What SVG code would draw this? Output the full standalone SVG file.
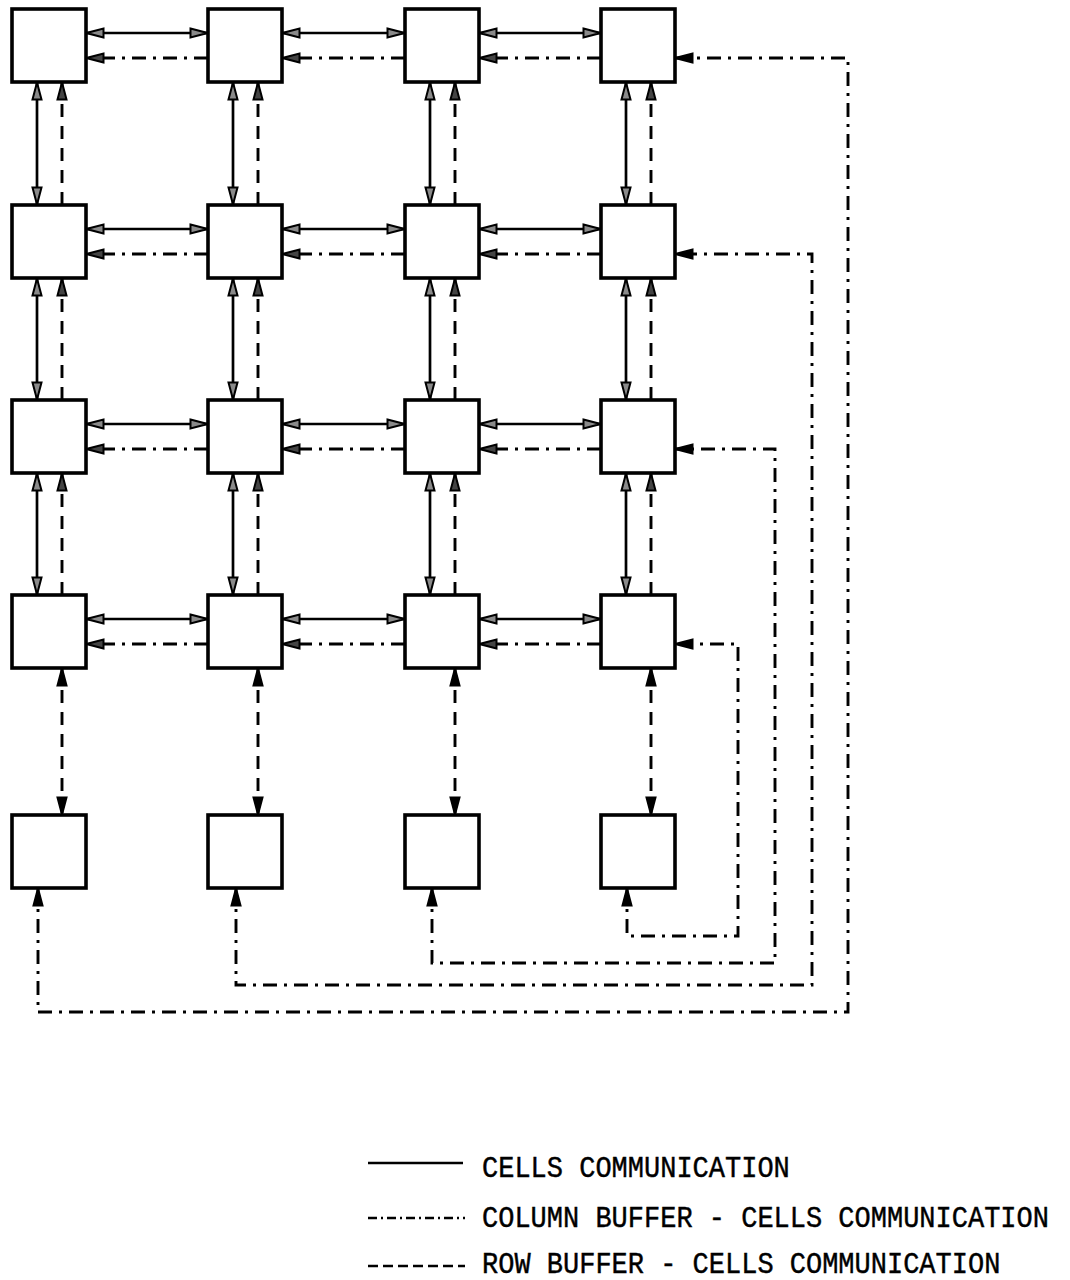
<svg xmlns="http://www.w3.org/2000/svg" width="1070" height="1280" viewBox="0 0 1070 1280">
<style>
.cell{fill:#fff;stroke:#000;stroke-width:3.6}
.s{fill:none;stroke:#000;stroke-width:2.7}
.d{fill:none;stroke:#000;stroke-width:2.9;stroke-dasharray:13 9}
.dd{fill:none;stroke:#000;stroke-width:2.9;stroke-dasharray:14 7 3 7}
.gs{marker-start:url(#ga);marker-end:url(#ga)}
.ge{marker-end:url(#da)}
.bs{marker-start:url(#ba);marker-end:url(#ba)}
.lt{font-family:"Liberation Mono","DejaVu Sans Mono",monospace;font-size:27px;fill:#000;stroke:#000;stroke-width:0.4}
</style>
<defs>
<marker id="ga" viewBox="0 0 20 12" refX="19" refY="6" markerWidth="20" markerHeight="12" markerUnits="userSpaceOnUse" orient="auto-start-reverse">
<path d="M1.5,1.5 L18.5,6 L1.5,10.5 z" fill="#8a8a8a" stroke="#000" stroke-width="2"/>
</marker>
<marker id="da" viewBox="0 0 20 12" refX="19" refY="6" markerWidth="20" markerHeight="12" markerUnits="userSpaceOnUse" orient="auto-start-reverse">
<path d="M1.5,1.5 L18.5,6 L1.5,10.5 z" fill="#444" stroke="#000" stroke-width="2"/>
</marker>
<marker id="ba" viewBox="0 0 20 12" refX="19" refY="6" markerWidth="20" markerHeight="12" markerUnits="userSpaceOnUse" orient="auto-start-reverse">
<path d="M1.5,1.5 L18.5,6 L1.5,10.5 z" fill="#000" stroke="#000" stroke-width="2"/>
</marker>
</defs>

<g id="connectors">
<!-- horizontal cell-cell solid -->
<g class="s gs">
<path d="M86,33 H208"/><path d="M282,33 H405"/><path d="M479,33 H601"/>
<path d="M86,229 H208"/><path d="M282,229 H405"/><path d="M479,229 H601"/>
<path d="M86,424 H208"/><path d="M282,424 H405"/><path d="M479,424 H601"/>
<path d="M86,619 H208"/><path d="M282,619 H405"/><path d="M479,619 H601"/>
</g>
<!-- horizontal column buffer dash-dot -->
<g class="dd ge">
<path d="M208,58 H86"/><path d="M405,58 H282"/><path d="M601,58 H479"/>
<path d="M208,254 H86"/><path d="M405,254 H282"/><path d="M601,254 H479"/>
<path d="M208,449 H86"/><path d="M405,449 H282"/><path d="M601,449 H479"/>
<path d="M208,644 H86"/><path d="M405,644 H282"/><path d="M601,644 H479"/>
</g>
<!-- vertical cell-cell solid -->
<g class="s gs">
<path d="M37,82 V205"/><path d="M37,278 V400"/><path d="M37,473 V595"/>
<path d="M233,82 V205"/><path d="M233,278 V400"/><path d="M233,473 V595"/>
<path d="M430,82 V205"/><path d="M430,278 V400"/><path d="M430,473 V595"/>
<path d="M626,82 V205"/><path d="M626,278 V400"/><path d="M626,473 V595"/>
</g>
<!-- vertical row buffer dashed -->
<g class="d ge">
<path d="M62,205 V82"/><path d="M62,400 V278"/><path d="M62,595 V473"/>
<path d="M258,205 V82"/><path d="M258,400 V278"/><path d="M258,595 V473"/>
<path d="M455,205 V82"/><path d="M455,400 V278"/><path d="M455,595 V473"/>
<path d="M651,205 V82"/><path d="M651,400 V278"/><path d="M651,595 V473"/>
</g>
<!-- row 4 to buffers -->
<g class="d bs">
<path d="M62,668 V815"/><path d="M258,668 V815"/><path d="M455,668 V815"/><path d="M651,668 V815"/>
</g>
<!-- buffer bottom routing -->
<g class="dd bs">
<path d="M627,888 V936 H738 V644 H675"/>
<path d="M432,888 V963 H775 V449 H675"/>
<path d="M236,888 V985 H812 V254 H675"/>
<path d="M38,888 V1012 H848 V58 H675"/>
</g>
</g>

<g id="r1c1"><rect class="cell" x="12" y="9" width="74" height="73"/></g>
<g id="r1c2"><rect class="cell" x="208" y="9" width="74" height="73"/></g>
<g id="r1c3"><rect class="cell" x="405" y="9" width="74" height="73"/></g>
<g id="r1c4"><rect class="cell" x="601" y="9" width="74" height="73"/></g>
<g id="r2c1"><rect class="cell" x="12" y="205" width="74" height="73"/></g>
<g id="r2c2"><rect class="cell" x="208" y="205" width="74" height="73"/></g>
<g id="r2c3"><rect class="cell" x="405" y="205" width="74" height="73"/></g>
<g id="r2c4"><rect class="cell" x="601" y="205" width="74" height="73"/></g>
<g id="r3c1"><rect class="cell" x="12" y="400" width="74" height="73"/></g>
<g id="r3c2"><rect class="cell" x="208" y="400" width="74" height="73"/></g>
<g id="r3c3"><rect class="cell" x="405" y="400" width="74" height="73"/></g>
<g id="r3c4"><rect class="cell" x="601" y="400" width="74" height="73"/></g>
<g id="r4c1"><rect class="cell" x="12" y="595" width="74" height="73"/></g>
<g id="r4c2"><rect class="cell" x="208" y="595" width="74" height="73"/></g>
<g id="r4c3"><rect class="cell" x="405" y="595" width="74" height="73"/></g>
<g id="r4c4"><rect class="cell" x="601" y="595" width="74" height="73"/></g>
<g id="buf1"><rect class="cell" x="12" y="815" width="74" height="73"/></g>
<g id="buf2"><rect class="cell" x="208" y="815" width="74" height="73"/></g>
<g id="buf3"><rect class="cell" x="405" y="815" width="74" height="73"/></g>
<g id="buf4"><rect class="cell" x="601" y="815" width="74" height="73"/></g>

<g id="legend">
<path d="M368,1163 H463" fill="none" stroke="#000" stroke-width="2.6"/>
<path d="M368,1218 H465" fill="none" stroke="#000" stroke-width="2.6" stroke-dasharray="9 4 2 4"/>
<path d="M368,1266 H465" fill="none" stroke="#000" stroke-width="2.6" stroke-dasharray="10 5"/>
<text class="lt" transform="translate(482,1177) scale(1,1.1)">CELLS COMMUNICATION</text>
<text class="lt" transform="translate(482,1227) scale(1,1.1)">COLUMN BUFFER - CELLS COMMUNICATION</text>
<text class="lt" transform="translate(482,1273) scale(1,1.1)">ROW BUFFER - CELLS COMMUNICATION</text>
</g>
</svg>
